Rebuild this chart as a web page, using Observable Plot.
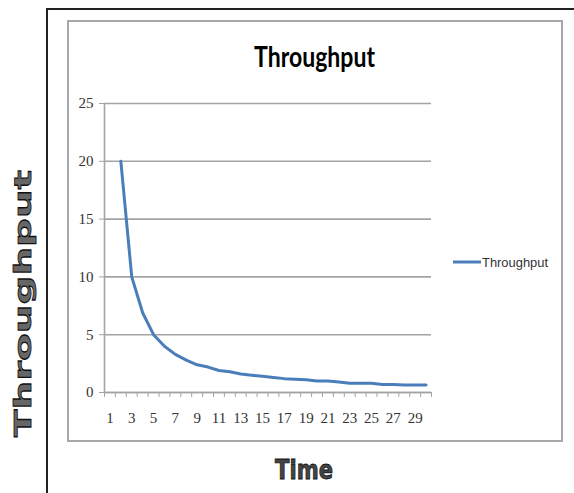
<!DOCTYPE html>
<html><head><meta charset="utf-8">
<script src="https://cdn.jsdelivr.net/npm/d3@7"></script>
<script src="https://cdn.jsdelivr.net/npm/@observablehq/plot@0.6"></script>
<style>
body{margin:0;background:#fff;}
#wrap{position:relative;width:574px;height:493px;overflow:hidden;background:#fff;}
#outer{position:absolute;left:46px;top:8px;width:600px;height:600px;border-left:2px solid #222;border-top:2px solid #222;box-sizing:border-box;}
#inner{position:absolute;left:67px;top:20px;width:496px;height:422px;border:2px solid #a8a8a8;box-sizing:border-box;}
#wrap svg{position:absolute;left:0;top:0;}
</style></head><body><div id="wrap"><div id="outer"></div><div id="inner"></div></div>
<script>
const times = [1,2,3,4,5,6,7,8,9,10,11,12,13,14,15,16,17,18,19,20,21,22,23,24,25,26,27,28,29,30];
const throughput = [null,20,10,6.9,5.0,4.0,3.3,2.8,2.4,2.2,1.9,1.8,1.6,1.5,1.4,1.3,1.2,1.15,1.1,1.0,1.0,0.9,0.8,0.8,0.8,0.7,0.7,0.65,0.65,0.65];
const yTicks = [0,5,10,15,20,25];
const xLabels = [1,3,5,7,9,11,13,15,17,19,21,23,25,27,29];
const seriesName = "Throughput";
const chartTitle = "Throughput";
const xTitle = "Time";
const yTitle = "Throughput";

const data = times.map((t,i)=>({time:t, value:throughput[i]})).filter(d=>d.value!=null);
const xDomain = [times[0]-0.5, times[times.length-1]+0.5];
const boundaries = d3.range(xDomain[0], xDomain[1]+0.01, 1);

const chart = Plot.plot({
  width: 574, height: 493,
  marginLeft: 104, marginRight: 143, marginTop: 103, marginBottom: 101,
  x: {domain: xDomain},
  y: {domain: [yTicks[0], yTicks[yTicks.length-1]]},
  style: {background:"transparent", fontFamily:"'Liberation Serif', serif", fontSize:"15px", color:"#333", overflow:"visible"},
  marks: [
    Plot.gridY(yTicks, {stroke:"#a4a4a4", strokeOpacity:1, strokeWidth:1.6}),
    Plot.ruleX([xDomain[0]], {stroke:"#a4a4a4", strokeWidth:1.6}),
    Plot.ruleY([yTicks[0]], {stroke:"#a4a4a4", strokeWidth:1.6}),
    Plot.axisY(yTicks, {tickSize:5, tickPadding:6, stroke:"#a4a4a4", fill:"#333", label:null}),
    Plot.axisX(boundaries, {tickSize:5, tickFormat:()=>"", stroke:"#a4a4a4", label:null}),
    Plot.axisX(xLabels, {tickSize:0, tickPadding:20, fill:"#333", label:null}),
    Plot.lineY(data, {x:"time", y:"value", stroke:"#4a7ebb", strokeWidth:3, strokeLinejoin:"round", strokeLinecap:"round"})
  ]
});
document.getElementById("wrap").appendChild(chart);

const svg = d3.select("#wrap").append("svg").attr("width",574).attr("height",493);
svg.append("text").text(chartTitle)
  .attr("x",314.5).attr("y",67).attr("text-anchor","middle")
  .attr("textLength",121).attr("lengthAdjust","spacingAndGlyphs")
  .style("font-family","Lato, sans-serif").style("font-weight","bold").style("font-size","28px").attr("fill","#000");
svg.append("line").attr("x1",453).attr("x2",481).attr("y1",262).attr("y2",262)
  .attr("stroke","#4a7ebb").attr("stroke-width",3);
svg.append("text").text(seriesName)
  .attr("x",482).attr("y",266.5)
  .attr("textLength",66).attr("lengthAdjust","spacingAndGlyphs")
  .style("font-family","'Liberation Sans', sans-serif").style("font-size","13px").attr("fill","#333");
svg.append("text").text(xTitle)
  .attr("x",304).attr("y",479).attr("text-anchor","middle")
  .attr("textLength",58).attr("lengthAdjust","spacingAndGlyphs")
  .style("font-family","'DejaVu Sans', sans-serif").style("font-weight","bold").style("font-size","27px")
  .attr("fill","#444").attr("stroke","#111").attr("stroke-width",0.8);
svg.append("text").text(yTitle)
  .attr("transform","translate(31,303.5) rotate(-90)").attr("text-anchor","middle")
  .attr("textLength",267).attr("lengthAdjust","spacingAndGlyphs")
  .style("font-family","'DejaVu Sans', sans-serif").style("font-weight","bold").style("font-size","23px")
  .attr("fill","#666").attr("stroke","#111").attr("stroke-width",0.8);
</script></body></html>
